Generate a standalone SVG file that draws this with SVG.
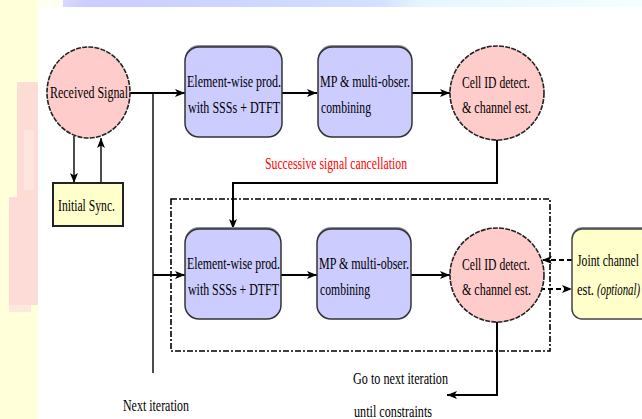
<svg xmlns="http://www.w3.org/2000/svg" width="642" height="419" viewBox="0 0 642 419">
<defs>
<linearGradient id="topbar" x1="63" y1="0" x2="642" y2="0" gradientUnits="userSpaceOnUse">
<stop offset="0" stop-color="#d8d8ff"/>
<stop offset="0.04" stop-color="#ccccff"/>
<stop offset="0.3" stop-color="#cdd6ff"/>
<stop offset="0.55" stop-color="#d2e2ff"/>
<stop offset="0.62" stop-color="#e4f6ff"/>
<stop offset="1" stop-color="#f4ffff"/>
</linearGradient>
<marker id="ah" markerUnits="userSpaceOnUse" markerWidth="11" markerHeight="9" refX="10" refY="4.5" orient="auto">
<path d="M0,0.5 L10,4.5 L0,8.5 L2.5,4.5 z" fill="#000"/>
</marker>
</defs>
<style>
.lbl{font-family:"Liberation Serif","Times New Roman",serif;font-size:16px;fill:#000}
.it{font-style:italic}
.red{fill:#ff0000}
.pinkc{fill:#ffcccc;stroke:#222;stroke-width:1.6;stroke-dasharray:5 1.2}
.pbox{fill:#ccccff;stroke:#333;stroke-width:1.5}
.shadow{fill:#8a8a9a}
.ybox{fill:#ffffcc;stroke:#222;stroke-width:2}
.yrbox{fill:#ffffcc;stroke:#444;stroke-width:1.5}
.ln{fill:none;stroke:#000;stroke-width:2}
.thin{fill:none;stroke:#000;stroke-width:1.4}
.dash{fill:none;stroke:#000;stroke-width:1.8;stroke-dasharray:5 3}
.frame{fill:none;stroke:#000;stroke-width:1.6;stroke-dasharray:6 2 2 2}
</style>

<!-- background -->
<rect x="0" y="0" width="642" height="419" fill="#ffffff"/>
<rect x="0" y="0" width="38" height="419" fill="#ffffda"/>
<rect x="38" y="0" width="25" height="7" fill="#fffff2"/>
<rect x="63" y="0" width="579" height="7" fill="url(#topbar)"/>
<rect x="17" y="82" width="21" height="115" fill="#fddcd6"/>
<rect x="9" y="197" width="29" height="108" fill="#fddcd8"/>
<rect x="9" y="305" width="22" height="7" fill="#fde8de"/>
<rect x="24" y="130" width="10" height="60" fill="#fee6de"/>

<!-- connectors -->
<g id="connectors">
<line class="ln" x1="130" y1="93" x2="185" y2="93" marker-end="url(#ah)"/>
<line class="ln" x1="282" y1="93" x2="317" y2="93" marker-end="url(#ah)"/>
<line class="ln" x1="412" y1="93" x2="450" y2="93" marker-end="url(#ah)"/>
<line class="thin" x1="153" y1="93" x2="153" y2="373"/>
<line class="thin" x1="74" y1="136" x2="74" y2="183" marker-end="url(#ah)"/>
<line class="thin" x1="101" y1="183" x2="101" y2="138" marker-end="url(#ah)"/>
<polyline class="ln" points="497,140 497,183 233,183 233,229" marker-end="url(#ah)"/>
<line class="ln" x1="153" y1="275" x2="185" y2="275" marker-end="url(#ah)"/>
<line class="ln" x1="281" y1="275" x2="317" y2="275" marker-end="url(#ah)"/>
<line class="ln" x1="411" y1="275" x2="450" y2="275" marker-end="url(#ah)"/>
<polyline class="ln" points="497,322 497,395 447,395" marker-end="url(#ah)"/>
<line class="dash" x1="572" y1="260" x2="542" y2="260" marker-end="url(#ah)"/>
<line class="dash" x1="540" y1="289" x2="572" y2="289" marker-end="url(#ah)"/>
<rect class="frame" x="171" y="199" width="379" height="152"/>
</g>

<!-- row 1 -->
<g id="received-signal">
<ellipse class="pinkc" cx="88.5" cy="92.5" rx="41.5" ry="45.5"/>
<text class="lbl" x="50" y="98" textLength="78" lengthAdjust="spacingAndGlyphs">Received Signal</text>
</g>
<g id="initial-sync">
<rect class="ybox" x="53" y="183" width="70" height="43"/>
<text class="lbl" x="58" y="211" textLength="57" lengthAdjust="spacingAndGlyphs">Initial Sync.</text>
</g>
<g id="elementwise-1">
<rect class="shadow" x="185" y="45" width="97" height="92" rx="14"/>
<rect class="pbox" x="185" y="47" width="97" height="90" rx="14"/>
<text class="lbl" x="187" y="87" textLength="94" lengthAdjust="spacingAndGlyphs">Element-wise prod.</text>
<text class="lbl" x="188" y="113" textLength="92" lengthAdjust="spacingAndGlyphs">with SSSs + DTFT</text>
</g>
<g id="mp-combining-1">
<rect class="shadow" x="318" y="45" width="94" height="92" rx="14"/>
<rect class="pbox" x="318" y="47" width="94" height="90" rx="14"/>
<text class="lbl" x="320" y="87" textLength="90" lengthAdjust="spacingAndGlyphs">MP &amp; multi-obser.</text>
<text class="lbl" x="321" y="113" textLength="50" lengthAdjust="spacingAndGlyphs">combining</text>
</g>
<g id="cell-id-1">
<circle class="pinkc" cx="497" cy="93" r="47"/>
<text class="lbl" x="462" y="88" textLength="68" lengthAdjust="spacingAndGlyphs">Cell ID detect.</text>
<text class="lbl" x="462" y="113" textLength="69" lengthAdjust="spacingAndGlyphs">&amp; channel est.</text>
</g>
<g id="ssc-label">
<text class="lbl red" x="265" y="169" textLength="142" lengthAdjust="spacingAndGlyphs">Successive signal cancellation</text>
</g>

<!-- row 2 -->
<g id="elementwise-2">
<rect class="shadow" x="185" y="227" width="96" height="92" rx="14"/>
<rect class="pbox" x="185" y="229" width="96" height="90" rx="14"/>
<text class="lbl" x="187" y="269" textLength="93" lengthAdjust="spacingAndGlyphs">Element-wise prod.</text>
<text class="lbl" x="188" y="295" textLength="91" lengthAdjust="spacingAndGlyphs">with SSSs + DTFT</text>
</g>
<g id="mp-combining-2">
<rect class="shadow" x="317" y="227" width="94" height="92" rx="14"/>
<rect class="pbox" x="317" y="229" width="94" height="90" rx="14"/>
<text class="lbl" x="319" y="269" textLength="90" lengthAdjust="spacingAndGlyphs">MP &amp; multi-obser.</text>
<text class="lbl" x="320" y="295" textLength="50" lengthAdjust="spacingAndGlyphs">combining</text>
</g>
<g id="cell-id-2">
<circle class="pinkc" cx="497" cy="275" r="47"/>
<text class="lbl" x="462" y="270" textLength="68" lengthAdjust="spacingAndGlyphs">Cell ID detect.</text>
<text class="lbl" x="462" y="295" textLength="69" lengthAdjust="spacingAndGlyphs">&amp; channel est.</text>
</g>
<g id="joint-channel">
<rect class="shadow" x="572" y="227" width="90" height="92" rx="10"/>
<rect class="yrbox" x="572" y="229" width="90" height="90" rx="10"/>
<text class="lbl" x="577" y="266" textLength="62" lengthAdjust="spacingAndGlyphs">Joint channel</text>
<text class="lbl" x="577" y="295" textLength="17" lengthAdjust="spacingAndGlyphs">est.</text>
<text class="lbl it" x="597" y="295" textLength="43" lengthAdjust="spacingAndGlyphs">(optional)</text>
</g>

<!-- bottom labels -->
<g id="next-iteration">
<text class="lbl" x="123" y="411" textLength="66" lengthAdjust="spacingAndGlyphs">Next iteration</text>
</g>
<g id="go-next">
<text class="lbl" x="353" y="384" textLength="95" lengthAdjust="spacingAndGlyphs">Go to next iteration</text>
<text class="lbl" x="354" y="417" textLength="78" lengthAdjust="spacingAndGlyphs">until constraints</text>
</g>
</svg>
